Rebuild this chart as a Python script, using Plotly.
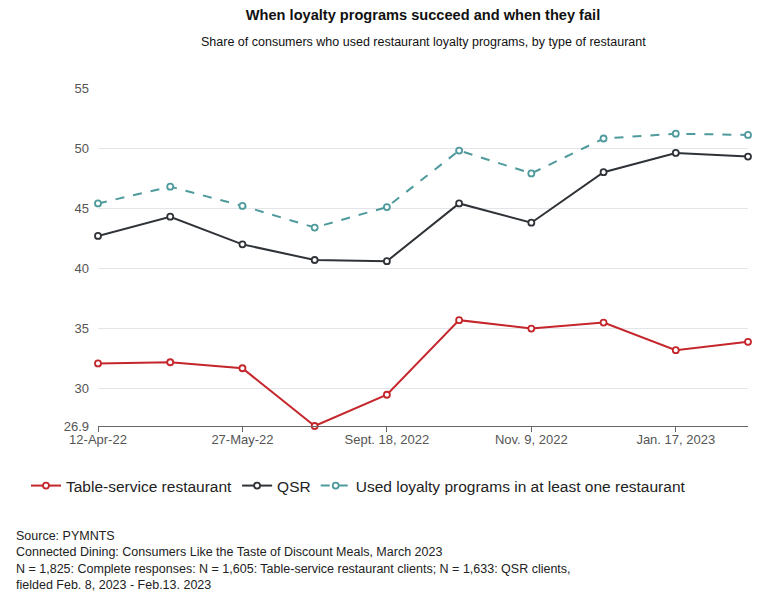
import plotly.graph_objects as go

tick_labels = ["12-Apr-22", "27-May-22", "Sept. 18, 2022", "Nov. 9, 2022", "Jan. 17, 2023"]
tick_index = [0, 2, 4, 6, 8]
x_index = list(range(10))

table_service = [32.1, 32.2, 31.7, 26.9, 29.5, 35.7, 35.0, 35.5, 33.2, 33.9]
qsr = [42.7, 44.3, 42.0, 40.7, 40.6, 45.4, 43.8, 48.0, 49.6, 49.3]
any_restaurant = [45.4, 46.8, 45.2, 43.4, 45.1, 49.8, 47.9, 50.8, 51.2, 51.1]

y_ticks = [26.9, 30, 35, 40, 45, 50, 55]

RED = "#c4262b"
DARK = "#2f3337"
TEAL = "#4f9a9c"
FONT = "Liberation Sans, Arial, sans-serif"

L, R, T, B = 98, 36, 88, 175
W, H = 784, 601
PW, PH = W - L - R, H - T - B

fig = go.Figure()
series = [
    ("Table-service restaurant", table_service, RED, "solid"),
    ("QSR", qsr, DARK, "solid"),
    ("Used loyalty programs in at least one restaurant", any_restaurant, TEAL, "dash"),
]
for name, vals, col, dash in series:
    fig.add_trace(go.Scatter(
        x=x_index, y=vals, name=name, mode="lines+markers",
        line=dict(color=col, width=2, dash=dash),
        marker=dict(symbol="circle", size=6, color="white", line=dict(color=col, width=1.8)),
        cliponaxis=False,
    ))

fig.update_layout(
    width=W, height=H,
    margin=dict(l=L, r=R, t=T, b=B, autoexpand=False),
    paper_bgcolor="white", plot_bgcolor="white",
    font=dict(family=FONT, color="#222"),
    title=dict(
        text="<b>When loyalty programs succeed and when they fail</b>",
        x=(L + L + PW) / 2 / W, xanchor="center", y=1 - 15 / H, yanchor="middle",
        font=dict(size=14.6, color="#111"),
    ),
    showlegend=True,
    legend=dict(
        orientation="h", xref="paper", yref="paper",
        x=(26 - L) / PW, xanchor="left", y=-(486 - (T + PH)) / PH, yanchor="middle",
        font=dict(size=15.5, color="#222"), tracegroupgap=0,
    ),
)

fig.update_xaxes(
    range=[0, 9], tickvals=tick_index, ticktext=tick_labels,
    showgrid=False, zeroline=False,
    showline=True, linecolor="#666", linewidth=1,
    ticks="outside", ticklen=5, tickcolor="#666", ticklabelstandoff=-4,
    tickfont=dict(size=13, color="#555"),
)
fig.update_yaxes(
    range=[26.9, 55], tickvals=y_ticks, ticktext=[str(v) for v in y_ticks],
    showgrid=True, gridcolor="#e3e5ea", gridwidth=1, zeroline=False,
    showline=False, ticks="", ticklabelstandoff=8,
    tickfont=dict(size=13, color="#555"),
)

fig.add_annotation(
    text="Share of consumers who used restaurant loyalty programs, by type of restaurant",
    xref="paper", yref="paper", x=0.5, xanchor="center",
    y=1 + (T - 42) / PH, yanchor="middle",
    showarrow=False, font=dict(size=12.5, color="#111"),
)

footnote = ("Source: PYMNTS<br>"
            "Connected Dining: Consumers Like the Taste of Discount Meals, March 2023<br>"
            "N = 1,825: Complete responses: N = 1,605: Table-service restaurant clients; N = 1,633: QSR clients,<br>"
            "fielded Feb. 8, 2023 - Feb.13. 2023")
fig.add_annotation(
    text=footnote, xref="paper", yref="paper",
    x=(14 - L) / PW, xanchor="left", y=-(527 - (T + PH)) / PH, yanchor="top",
    align="left", showarrow=False, font=dict(size=12.5, color="#222"),
)

fig.write_html("out.html", config={"displayModeBar": False},
               post_script="document.body.style.margin='0';")
